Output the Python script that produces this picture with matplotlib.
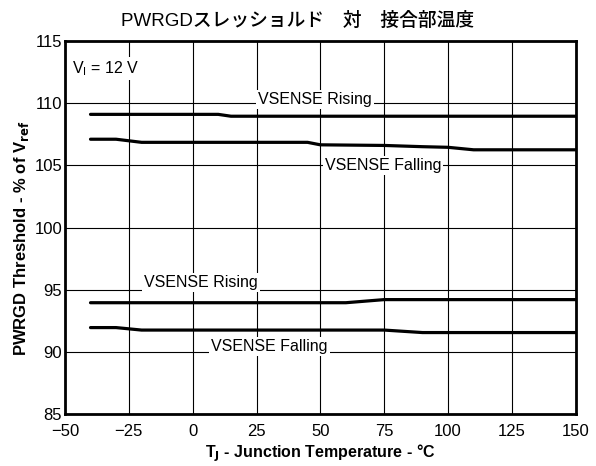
import matplotlib
matplotlib.use("Agg")
import matplotlib.pyplot as plt

plt.rcParams['font.family'] = ['Liberation Sans', 'DejaVu Sans']

# Data
t_rise_hi = [-40, -25, 0, 10, 15, 25, 50, 75, 100, 125, 150]
v_rise_hi = [109.1, 109.1, 109.1, 109.1, 108.95, 108.95, 108.95, 108.95, 108.95, 108.95, 108.95]

t_fall_hi = [-40, -30, -20, 0, 25, 45, 50, 75, 90, 100, 110, 125, 150]
v_fall_hi = [107.1, 107.1, 106.85, 106.85, 106.85, 106.85, 106.65, 106.6, 106.5, 106.45, 106.25, 106.25, 106.25]

t_rise_lo = [-40, -25, 0, 25, 50, 60, 75, 100, 125, 150]
v_rise_lo = [93.95, 93.95, 93.95, 93.95, 93.95, 93.95, 94.2, 94.2, 94.2, 94.2]

t_fall_lo = [-40, -30, -20, 0, 25, 50, 75, 90, 100, 125, 150]
v_fall_lo = [91.95, 91.95, 91.75, 91.75, 91.75, 91.75, 91.75, 91.55, 91.55, 91.55, 91.55]

x_ticks = [-50, -25, 0, 25, 50, 75, 100, 125, 150]
x_labels = ['\u221250', '\u221225', '0', '25', '50', '75', '100', '125', '150']
y_ticks = [85, 90, 95, 100, 105, 110, 115]

fig = plt.figure(figsize=(5.96, 4.66), dpi=100)
ax = fig.add_axes([0.109, 0.1116, 0.857, 0.8004])

for t, v in [(t_rise_hi, v_rise_hi), (t_fall_hi, v_fall_hi),
             (t_rise_lo, v_rise_lo), (t_fall_lo, v_fall_lo)]:
    ax.plot(t, v, color='black', lw=2.3, solid_capstyle='round', zorder=3)

ax.set_xlim(-50, 150)
ax.set_ylim(85, 115)
ax.set_xticks(x_ticks)
ax.set_xticklabels(x_labels)
ax.set_yticks(y_ticks)
ax.tick_params(length=0, labelsize=12)
ax.tick_params(axis='x', pad=7)
ax.tick_params(axis='y', pad=2)
ax.grid(True, color='black', lw=0.8)
ax.set_axisbelow(True)
for s in ax.spines.values():
    s.set_linewidth(2)

box = dict(facecolor='white', edgecolor='none', pad=1.5)
fs = 11.5
ax.text(48, 110.3, 'VSENSE Rising', ha='center', va='center', fontsize=fs, bbox=box, zorder=2)
ax.text(74.5, 105.0, 'VSENSE Falling', ha='center', va='center', fontsize=fs, bbox=box, zorder=2)
ax.text(3.2, 95.6, 'VSENSE Rising', ha='center', va='center', fontsize=fs, bbox=box, zorder=2)
ax.text(30, 90.45, 'VSENSE Falling', ha='center', va='center', fontsize=fs, bbox=box, zorder=2)
ax.text(-34, 112.8, r'V$_\mathregular{I}$ = 12 V', ha='center', va='center', fontsize=fs,
        bbox=box, zorder=2)

ax.set_xlabel(r'T$_\mathbf{J}$ - Junction Temperature - °C', fontsize=11.5, fontweight='bold',
              labelpad=3)
ax.set_ylabel(r'PWRGD Threshold - % of V$_\mathbf{ref}$', fontsize=12, fontweight='bold')
ax.yaxis.set_label_coords(-0.066, 0.47)
fig.text(0.5, 0.955, 'PWRGDスレッショルド\u3000対\u3000接合部温度', fontsize=13.5,
         fontweight='medium', ha='center', va='center',
         family=['Liberation Sans', 'Noto Sans CJK JP'])

fig.savefig('out.png', dpi=100)
